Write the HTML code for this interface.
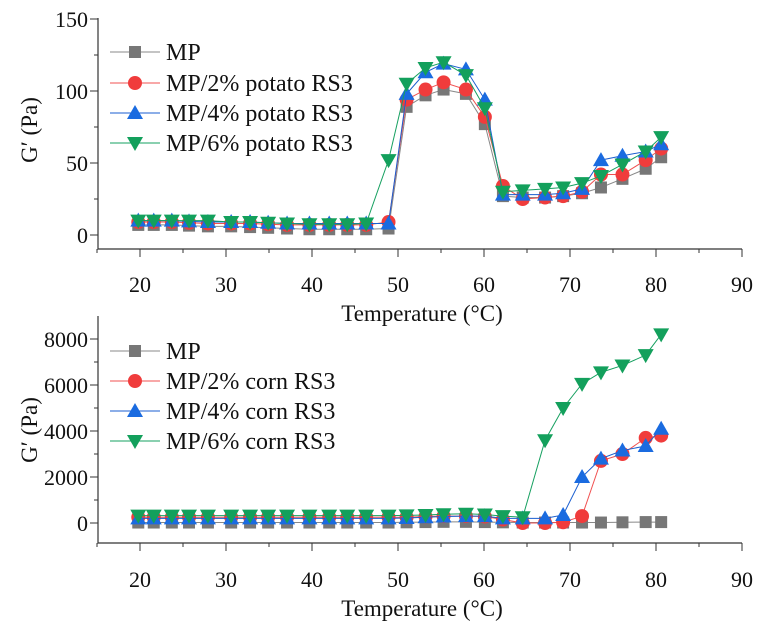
<!DOCTYPE html>
<html><head><meta charset="utf-8"><style>
html,body{margin:0;padding:0;background:#fff;font-family:"Liberation Serif","DejaVu Serif",serif;}
</style></head><body>
<svg id="s" width="766" height="633" viewBox="0 0 766 633" xmlns="http://www.w3.org/2000/svg" style="font-family:'Liberation Serif','DejaVu Serif',serif">
<g font-size="22" text-anchor="middle" style="font-family:'Liberation Serif','DejaVu Serif',serif" fill="#111">
<text x="140" y="292">20</text><text x="226" y="292">30</text><text x="312" y="292">40</text><text x="398" y="292">50</text><text x="484" y="292">60</text><text x="570" y="292">70</text><text x="656" y="292">80</text><text x="742" y="292">90</text>
<text x="140" y="587">20</text><text x="226" y="587">30</text><text x="312" y="587">40</text><text x="398" y="587">50</text><text x="484" y="587">60</text><text x="570" y="587">70</text><text x="656" y="587">80</text><text x="742" y="587">90</text>
</g>
<g font-size="22" text-anchor="end" style="font-family:'Liberation Serif','DejaVu Serif',serif" fill="#111">
<text x="88" y="27">150</text><text x="88" y="99">100</text><text x="88" y="171">50</text><text x="88" y="243">0</text>
<text x="88" y="347">8000</text><text x="88" y="393">6000</text><text x="88" y="439">4000</text><text x="88" y="485">2000</text><text x="88" y="531">0</text>
</g>
<g font-size="23" text-anchor="middle" style="font-family:'Liberation Serif','DejaVu Serif',serif" fill="#111">
<text x="422" y="321">Temperature (°C)</text>
<text x="422" y="616">Temperature (°C)</text>
<text transform="translate(37,130) rotate(-90)">G′ (Pa)</text>
<text transform="translate(37,430) rotate(-90)">G′ (Pa)</text>
</g>
<g font-size="24" style="font-family:'Liberation Serif','DejaVu Serif',serif" fill="#111">
<text x="166" y="60">MP</text><text x="166" y="91">MP/2% potato RS3</text><text x="166" y="121">MP/4% potato RS3</text><text x="166" y="151">MP/6% potato RS3</text>
<text x="166" y="359">MP</text><text x="166" y="389">MP/2% corn RS3</text><text x="166" y="419">MP/4% corn RS3</text><text x="166" y="449">MP/6% corn RS3</text>
</g>
<g id="g"></g>
</svg>
<script>
const g=document.getElementById('g');let h='';
const T=[19.8,21.6,23.7,25.7,27.9,30.6,32.8,34.9,37.1,39.7,42,44.1,46.3,48.9,51,53.2,55.3,57.9,60.1,62.2,64.5,67.1,69.2,71.4,73.6,76.1,78.8,80.6];
const X=t=>140+(t-20)*8.6;
function axes(top,bot,y0,ys,maj,minr,ymax){
 h+=`<path d="M98 ${top}V${bot}H742" stroke="#333" stroke-width="1.2" fill="none"/>`;
 for(let t=15;t<=90;t+=5){h+=`<line x1="${X(t)}" x2="${X(t)}" y1="${bot}" y2="${bot+(t%10==0?8:4)}" stroke="#333"/>`;}
 for(let v=0;v<=ymax;v+=minr){const y=y0-v*ys;h+=`<line x1="98" x2="${98-(v%maj==0?8:4)}" y1="${y}" y2="${y}" stroke="#333"/>`;}
}
axes(18,249,235,1.44,50,25,150);
axes(316,543,523,0.023,2000,1000,8000);
const C=['#777','#f03c3c','#1a6be0','#13a05c'],L=['#888','#f05050','#1a5ed0','#16a060'];
function mk(k,x,y){const c=C[k];
 if(k==0)return `<rect x="${x-6}" y="${y-6}" width="12" height="12" fill="${c}"/>`;
 if(k==1)return `<circle cx="${x}" cy="${y}" r="7" fill="${c}"/>`;
 if(k==2)return `<path d="M${x} ${y-8}L${x+8} ${y+6}L${x-8} ${y+6}Z" fill="${c}"/>`;
 return `<path d="M${x} ${y+8}L${x+8} ${y-6}L${x-8} ${y-6}Z" fill="${c}"/>`;}
function series(data,y0,ys){data.forEach((d,k)=>{const p=d.map((v,i)=>[X(T[i]),y0-v*ys]);
 h+=`<polyline points="${p.map(q=>q.join(',')).join(' ')}" fill="none" stroke="${L[k]}" stroke-width="1"/>`;
 p.forEach(q=>h+=mk(k,q[0],q[1]));});}
series([
[7,7,7,6.5,6,6,5.5,5,4.5,4,4,4,4,4.5,89,97,101,98,77,27,26,26,27,29,33,39,46,54],
[9,9,9,8.5,8,8,8,7.5,7,7,7,7,7,9,94,101,106,101,82,34,25,26,27,30,42,42,52,60],
[10,10,10,9.5,9,9,9,8.5,8,8,8,8,8,8,98,113,119,115,94,28,28,28,29,32,52,55,58,63],
[10,10,10,10,10,9,9,8.5,8,7.5,7.5,7.5,8,52,105,116,120,111,88,30,31,32,33,36,41,49,58,68]],235,1.44);
series([
[20,20,20,20,20,20,20,20,20,20,20,20,20,20,30,40,50,50,40,30,20,20,20,20,20,30,40,40],
[250,250,250,250,250,250,250,250,250,250,250,250,250,250,250,280,300,300,280,150,0,0,30,300,2700,3000,3700,3800],
[200,200,200,200,200,200,200,200,200,200,200,200,200,200,220,250,280,300,300,200,200,200,350,2000,2800,3150,3350,4100],
[320,320,320,320,320,320,320,320,320,320,320,320,320,320,330,350,380,400,370,300,250,3600,5000,6050,6550,6850,7300,8200]],523,0.023);
const ly=[[52,83,113,143],[351,381,411,441]];
ly.forEach(a=>a.forEach((y,k)=>{h+=`<line x1="110" x2="160" y1="${y}" y2="${y}" stroke="${L[k]}"/>`+mk(k,135,y);}));
g.innerHTML=h;
</script>
</body></html>
